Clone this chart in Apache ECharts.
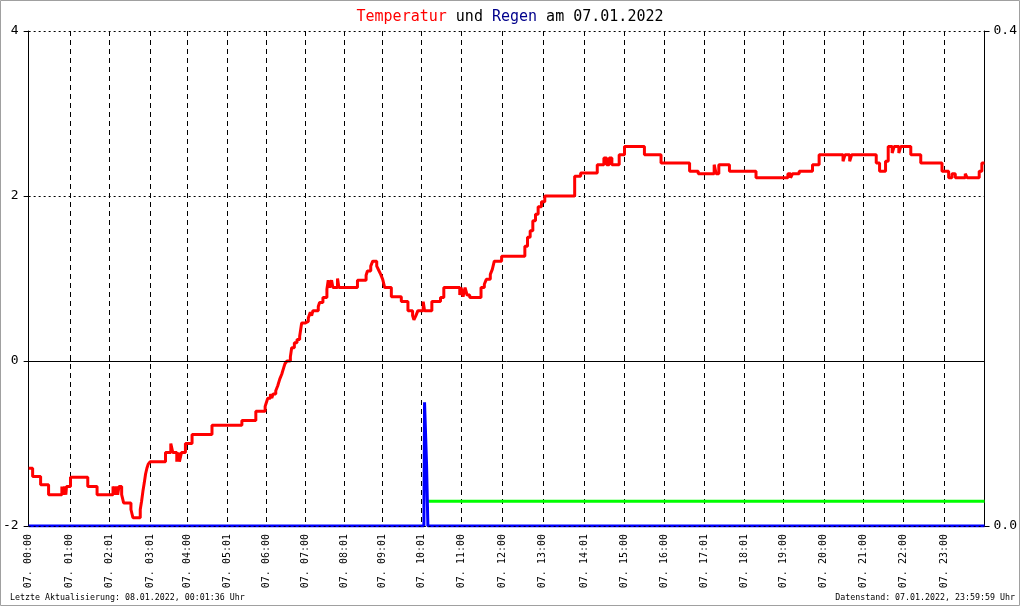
<!DOCTYPE html>
<html><head><meta charset="utf-8">
<script src="https://cdn.jsdelivr.net/npm/echarts/dist/echarts.min.js"></script>
<style>html,body{margin:0;padding:0;background:#fff}#c{width:1020px;height:606px}</style>
</head><body><div id="c"></div><script>
// x axis: recorded sample slots of the day (one per minute, 1440 slots)
const SLOTS = 1440;
const tickSlots = [0,62,122,183,239,299,358,416,475,532,591,651,713,774,837,897,957,1017,1077,1136,1197,1257,1317,1378];
const tickLabels = ['07. 00:00','07. 01:00','07. 02:01','07. 03:01','07. 04:00','07. 05:01','07. 06:00','07. 07:00','07. 08:01','07. 09:01','07. 10:01','07. 11:00','07. 12:00','07. 13:00','07. 14:01','07. 15:00','07. 16:00','07. 17:01','07. 18:01','07. 19:00','07. 20:00','07. 21:00','07. 22:00','07. 23:00'];
const leftTicks = [-2, 0, 2, 4];
const rightTicks = [0.0, 0.4];

// temperature (°C): value taken from each slot on until the next change
const tempSlot = [0,6,18,30,50,52,54,56,57,63,89,103,127,130,132,134,136,140,143,154,157,168,170,172,174,176,178,180,183,
 206,214,217,223,225,227,230,236,246,276,321,342,356,358,
 360,364,366,368,372,375,378,381,384,386,389,394,396,400,404,408,411,416,421,424,426,428,436,438,443,449,451,453,456,458,465,467,495,508,510,515,518,524,527,530,533,536,
 546,561,571,578,580,583,586,594,596,607,620,625,649,651,654,657,660,664,681,686,689,695,698,701,712,
 747,751,755,759,763,767,772,777,822,831,856,866,870,874,878,889,897,927,952,995,1008,1032,1035,1039,1046,1055,1095,1143,1147,1150,1160,1180,1190,1226,1229,1236,1239,1276,1281,1290,1294,1300,1303,1310,1313,1328,1343,1375,1385,1390,1395,1410,1413,1431,1435,1439];
const tempValue = [-1.3,-1.4,-1.5,-1.62,-1.52,-1.62,-1.52,-1.62,-1.52,-1.41,-1.52,-1.62,-1.52,-1.62,-1.52,-1.62,-1.52,-1.62,-1.72,-1.8,-1.9,-1.8,-1.7,-1.58,-1.48,-1.37,-1.3,-1.25,-1.22,
 -1.11,-1.0,-1.11,-1.22,-1.11,-1.22,-1.11,-1.0,-0.89,-0.78,-0.72,-0.61,-0.55,-0.5,
 -0.45,-0.4,-0.45,-0.4,-0.36,-0.3,-0.22,-0.16,-0.08,-0.03,0.0,0.05,0.16,0.22,0.26,0.3,0.46,0.48,0.52,0.59,0.55,0.61,0.66,0.71,0.77,0.87,0.98,0.89,0.98,0.89,1.0,0.89,0.98,1.04,1.09,1.15,1.21,1.15,1.1,1.05,0.99,0.89,
 0.78,0.72,0.61,0.55,0.5,0.55,0.61,0.72,0.61,0.72,0.77,0.89,0.8,0.89,0.78,0.89,0.8,0.77,0.89,0.93,0.99,1.05,1.11,1.21,1.27,
 1.39,1.5,1.58,1.7,1.78,1.87,1.93,2.0,2.24,2.28,2.38,2.46,2.38,2.46,2.38,2.5,2.6,2.5,2.4,2.3,2.27,2.38,2.27,2.38,2.38,2.3,2.22,2.27,2.22,2.27,2.3,2.38,2.5,2.42,2.5,2.42,2.5,2.4,2.3,2.42,2.6,2.52,2.6,2.52,2.6,2.5,2.4,2.3,2.22,2.27,2.22,2.27,2.22,2.3,2.4,2.4];

// rain (mm, right axis)
const rainSlot = [0,595,596,599,601,1439];
const rainValue = [0,0,0.1,0.05,0,0];
const rainSumSlot = [601,1439];
const rainSumValue = [0.02,0.02];

const tickSet = new Set(tickSlots);
const categories = Array.from({length: SLOTS}, (_, i) => {
  const k = tickSlots.indexOf(i); return k >= 0 ? tickLabels[k] : '';
});
const zip = (a, b) => a.map((x, i) => [x, b[i]]);
const MONO = '"DejaVu Sans Mono", monospace';

const chart = echarts.init(document.getElementById('c'), null, {renderer: 'canvas'});
chart.setOption({
  animation: false,
  backgroundColor: '#fff',
  title: {
    left: 'center', top: 5,
    text: '{r|Temperatur}{k| und }{b|Regen}{k| am 07.01.2022}',
    textStyle: { fontWeight: 'normal', fontFamily: MONO, fontSize: 15, rich: {
      r: {color: '#ff0000', fontFamily: MONO, fontSize: 15, fontWeight: 'normal'},
      k: {color: '#000000', fontFamily: MONO, fontSize: 15, fontWeight: 'normal'},
      b: {color: '#00008b', fontFamily: MONO, fontSize: 15, fontWeight: 'normal'}
    }}
  },
  grid: {left: 28, right: 34, top: 31, bottom: 80, containLabel: false},
  xAxis: {
    type: 'category', data: categories, boundaryGap: false,
    axisLine: {show: false},
    axisTick: {show: true, inside: true, length: 3, interval: (i) => tickSet.has(i), lineStyle: {color: '#000'}},
    axisLabel: {interval: (i) => tickSet.has(i), rotate: 90, color: '#000', fontFamily: MONO, fontSize: 10, margin: 8, hideOverlap: false},
    splitLine: {show: true, interval: (i) => tickSet.has(i) && i > 0, lineStyle: {type: [5, 4], color: '#000', width: 1}}
  },
  yAxis: [{
    type: 'value', min: leftTicks[0], max: leftTicks[leftTicks.length - 1], interval: 2, position: 'left',
    axisLine: {show: true, lineStyle: {color: '#000'}},
    axisTick: {show: true, length: 5, lineStyle: {color: '#000'}},
    axisLabel: {color: '#000', fontFamily: MONO, fontSize: 13, margin: 10},
    splitLine: {show: true, lineStyle: {type: [2, 3], color: '#000', width: 1}}
  }, {
    type: 'value', min: rightTicks[0], max: rightTicks[1], interval: 0.4, position: 'right',
    axisLine: {show: true, lineStyle: {color: '#000'}},
    axisTick: {show: true, length: 5, lineStyle: {color: '#000'}},
    axisLabel: {color: '#000', fontFamily: MONO, fontSize: 13, margin: 9, formatter: (v) => v.toFixed(1)},
    splitLine: {show: false}
  }],
  graphic: [
    {type: 'text', left: 10, top: 594, style: {text: 'Letzte Aktualisierung: 08.01.2022, 00:01:36 Uhr', font: '8.3px "DejaVu Sans Mono"', fill: '#000'}},
    {type: 'text', right: 5, top: 594, style: {text: 'Datenstand: 07.01.2022, 23:59:59 Uhr', font: '8.3px "DejaVu Sans Mono"', fill: '#000'}},
    {type: 'rect', silent: true, z: 100, shape: {x: 0.5, y: 0.5, width: 1019, height: 605}, style: {fill: null, stroke: '#a0a0a0', lineWidth: 1}}
  ],
  series: [
    {name: 'zero', type: 'line', yAxisIndex: 0, data: [], z: 1, silent: true,
     markLine: {silent: true, symbol: 'none', label: {show: false}, lineStyle: {type: 'solid', color: '#000', width: 1}, data: [{yAxis: 0}]}},
    {name: 'Regensumme', type: 'line', yAxisIndex: 1, data: zip(rainSumSlot, rainSumValue), symbol: 'none', z: 2,
     lineStyle: {color: '#00ff00', width: 3}, itemStyle: {color: '#00ff00'}},
    {name: 'Regen', type: 'line', yAxisIndex: 1, step: 'end', data: zip(rainSlot, rainValue), symbol: 'none', z: 3,
     lineStyle: {color: '#0000ff', width: 3}, itemStyle: {color: '#0000ff'},
     markLine: {silent: true, symbol: 'none', label: {show: false}, lineStyle: {type: [2, 3], color: '#000', width: 1}, data: [{yAxis: 0}]}},
    {name: 'Temperatur', type: 'line', yAxisIndex: 0, step: 'end', data: zip(tempSlot, tempValue), symbol: 'none', z: 4,
     lineStyle: {color: '#ff0000', width: 3}, itemStyle: {color: '#ff0000'}}
  ]
});
</script></body></html>
